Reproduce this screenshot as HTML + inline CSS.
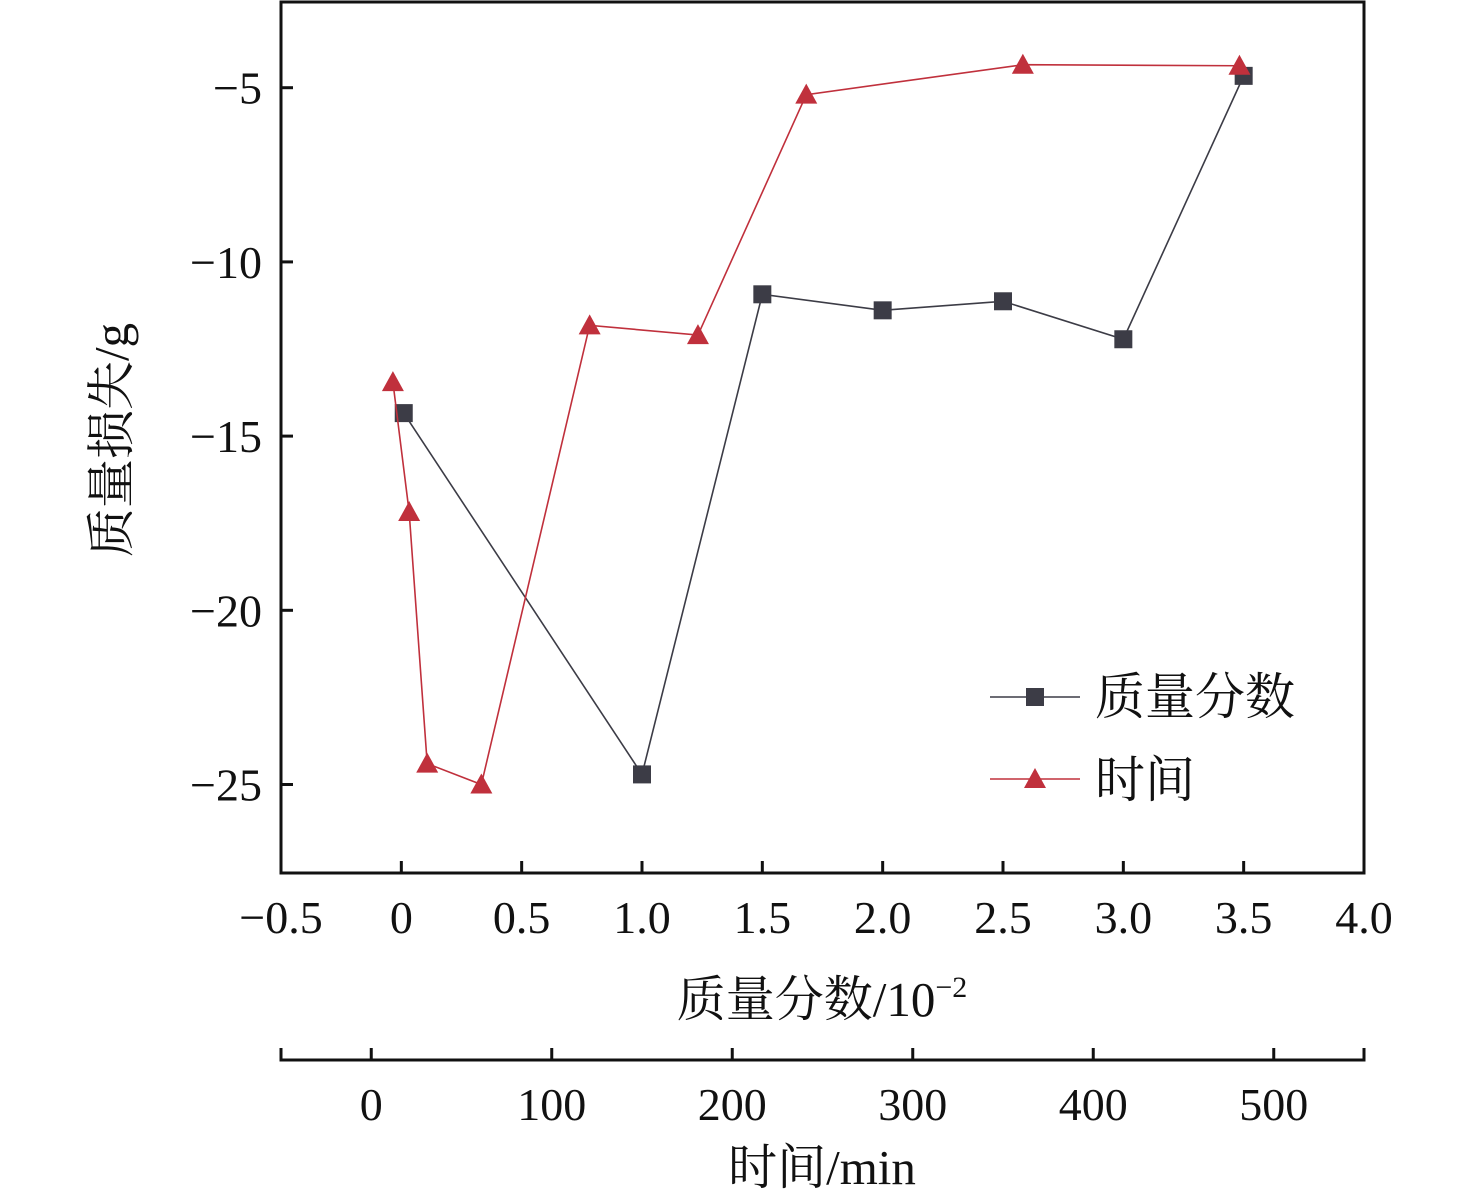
<!DOCTYPE html>
<html><head><meta charset="utf-8"><style>
html,body{margin:0;padding:0;background:#fff;}
svg{display:block;font-family:"Liberation Serif","Noto Serif CJK SC",serif;}
</style></head><body>
<svg id="c" width="1476" height="1201" viewBox="0 0 1476 1201" xmlns="http://www.w3.org/2000/svg"></svg>
<script>
const xTicks=[-0.5,0,0.5,1.0,1.5,2.0,2.5,3.0,3.5,4.0];
const xTickLabels=["\u22120.5","0","0.5","1.0","1.5","2.0","2.5","3.0","3.5","4.0"];
const yTicks=[-5,-10,-15,-20,-25];
const yTickLabels=["\u22125","\u221210","\u221215","\u221220","\u221225"];
const tTicks=[0,100,200,300,400,500];
const tTickLabels=["0","100","200","300","400","500"];
const massX=[0.01,1.0,1.5,2.0,2.5,3.0,3.5];
const massY=[-14.34,-24.71,-10.93,-11.39,-11.13,-12.22,-4.66];
const timeX=[12,21,31,61,121,181,241,361,481];
const timeY=[-13.45,-17.18,-24.4,-25.0,-11.82,-12.1,-5.2,-4.34,-4.37];

const L=281,R=1364,T=2,B=873,AX2=1060;
const sx=v=>L+(v+0.5)/4.5*(R-L);
const sy=v=>T+(-2.54-v)/25*(B-T);
const st=v=>L+(v+50)/600*(R-L);
const svg=document.getElementById('c');
const NS='http://www.w3.org/2000/svg';
function mk(tag,attrs,parent){const e=document.createElementNS(NS,tag);for(const k in attrs)e.setAttribute(k,attrs[k]);(parent||svg).appendChild(e);return e;}

let frame=mk('rect',{x:L,y:T,width:R-L,height:B-T,fill:'none',stroke:'#111','stroke-width':3});



xTicks.forEach((v,i)=>{
  let t=mk('line',{x1:sx(v),x2:sx(v),y1:B,y2:B-12,stroke:'#111','stroke-width':3});
  
  
  let l=mk('text',{x:sx(v),y:933,'font-size':46,'text-anchor':'middle',fill:'#111'});
  l.textContent=xTickLabels[i];
  
  
});
yTicks.forEach((v,i)=>{
  let t=mk('line',{x1:L,x2:L+12,y1:sy(v),y2:sy(v),stroke:'#111','stroke-width':3});
  
  
  let l=mk('text',{x:262,y:sy(v)+16,'font-size':46,'text-anchor':'end',fill:'#111'});
  l.textContent=yTickLabels[i];
  
  
});
let ax2=mk('path',{d:`M${L},${AX2-12}V${AX2}H${R}V${AX2-12}`,fill:'none',stroke:'#111','stroke-width':3});


tTicks.forEach((v,i)=>{
  let t=mk('line',{x1:st(v),x2:st(v),y1:AX2,y2:AX2-12,stroke:'#111','stroke-width':3});
  
  
  let l=mk('text',{x:st(v),y:1120,'font-size':46,'text-anchor':'middle',fill:'#111'});
  l.textContent=tTickLabels[i];
  
  
});
let xt=mk('text',{x:822,y:1016,'font-size':49,'text-anchor':'middle',fill:'#111'});
xt.innerHTML='质量分数/10<tspan font-size="30" dy="-19">\u22122</tspan>';


let tt=mk('text',{x:822,y:1184,'font-size':49,'text-anchor':'middle',fill:'#111'});
tt.textContent='时间/min';


let yt=mk('text',{x:0,y:0,'font-size':49,'text-anchor':'middle',fill:'#111',transform:'translate(128,440) rotate(-90)'});
yt.textContent='质量损失/g';



const BLK='#3c3c46',RED='#c0303c';
let p1=mk('polyline',{points:massX.map((v,i)=>sx(v)+','+sy(massY[i])).join(' '),fill:'none',stroke:BLK,'stroke-width':1.6});


massX.forEach((v,i)=>{
  let m=mk('rect',{x:sx(v)-9,y:sy(massY[i])-9,width:18,height:18,fill:BLK});
  
  
});
let p2=mk('polyline',{points:timeX.map((v,i)=>st(v)+','+sy(timeY[i])).join(' '),fill:'none',stroke:RED,'stroke-width':1.6});


const tri=(x,y)=>`${x},${y-11} ${x-11},${y+9} ${x+11},${y+9}`;
timeX.forEach((v,i)=>{
  let m=mk('polygon',{points:tri(st(v),sy(timeY[i])),fill:RED});
  
  
});

let lg=mk('g',{});


mk('line',{x1:990,x2:1080,y1:697,y2:697,stroke:BLK,'stroke-width':1.6},lg);
mk('rect',{x:1026,y:688,width:18,height:18,fill:BLK},lg);
let lt1=mk('text',{x:1095,y:714,'font-size':50,fill:'#111'},lg);
lt1.textContent='质量分数';


mk('line',{x1:990,x2:1080,y1:779,y2:779,stroke:RED,'stroke-width':1.6},lg);
mk('polygon',{points:tri(1035,779),fill:RED},lg);
let lt2=mk('text',{x:1095,y:797,'font-size':50,fill:'#111'},lg);
lt2.textContent='时间';


</script>
</body></html>
